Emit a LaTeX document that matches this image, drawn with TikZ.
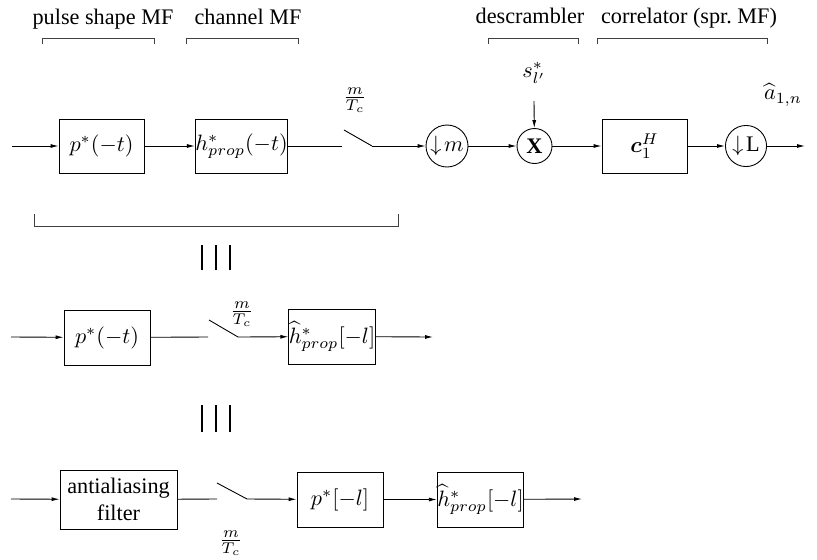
\documentclass[tikz,border=0pt]{standalone}
\usepackage{amsmath}
\usepackage{fontspec}
\setmainfont{Liberation Serif}
\usetikzlibrary{arrows.meta}

\begin{document}
\begin{tikzpicture}[x=0.45pt,y=-0.45pt,
    blk/.style={draw, minimum width=38.25pt, minimum height=24.3pt, inner sep=0pt},
    rnd/.style={draw, circle, inner sep=0pt},
    sig/.style={-{Latex[length=3.6pt,width=1.8pt]}},
    brk/.style={draw=black!75},
    eqv/.style={line width=0.7pt}]
  \useasboundingbox (0,0) rectangle (817,559);

  % Block titles and brackets
  \node[anchor=base] (tps) at (103,24) {pulse shape MF};
  \node[anchor=base] (tch) at (248,24) {channel MF};
  \node[anchor=base] (tds) at (530,23) {descrambler};
  \node[anchor=base] (tco) at (689,23) {correlator (spr.\ MF)};
  \draw[brk] (42,44) |- (154,38) -- (154,44);
  \draw[brk] (186,44) |- (298,38) -- (298,44);
  \draw[brk] (488,44) |- (578,38) -- (578,44);
  \draw[brk] (597,44) |- (767,38) -- (767,44);

  % Top row
  \coordinate (in1) at (12,146);
  \node[blk] (p1) at (101.5,146) {$p^*(-t)$};
  \node[blk] (h1) at (241.5,146) {$h^*_{prop}(-t)$};
  \coordinate (s1o) at (342,146);
  \coordinate (s1a) at (344,130);
  \coordinate (s1b) at (372,146);
  \node (r1) at (355,100) {$\frac{m}{T_c}$};
  \node[rnd, minimum size=18.9pt] (dm) at (447,146) {$\downarrow\! m$};
  \node[rnd, minimum size=15.75pt] (mx) at (534.5,146) {$\mathbf{X}$};
  \node (sc) at (534,73) {$s^*_{l'}$};
  \coordinate (sct) at (534,101);
  \node[blk] (c1) at (644.5,146) {$\boldsymbol{c}_1^H$};
  \node[rnd, minimum size=18.5pt] (dl) at (746,146) {$\downarrow\!\mathrm{L}$};
  \coordinate (out1) at (805,146);
  \node (ah) at (783,95) {$\widehat{a}_{1,n}$};

  \draw[sig] (in1) -- (p1);
  \draw[sig] (p1) -- (h1);
  \draw (h1) -- (s1o);
  \draw (s1a) -- (s1b);
  \draw[sig] (s1b) -- (dm);
  \draw[sig] (dm) -- (mx);
  \draw[sig] (sct) -- (mx);
  \draw[sig] (mx) -- (c1);
  \draw[sig] (c1) -- (dl);
  \draw[sig] (dl) -- (out1);

  % Bracket round the analog part
  \draw[brk] (34,214) |- (398,226) -- (398,214);

  % Equivalence signs
  \foreach \xb in {202,216,230} {
    \draw[eqv] (\xb,245) -- (\xb,270);
    \draw[eqv] (\xb,405) -- (\xb,432);
  }

  % Middle row
  \coordinate (in2) at (11,337);
  \node[blk, minimum width=38.7pt, minimum height=24.75pt] (p2) at (107,337.5) {$p^*(-t)$};
  \coordinate (s2o) at (208,337);
  \coordinate (s2a) at (209,320);
  \coordinate (s2b) at (238,337);
  \node (r2) at (242,314) {$\frac{m}{T_c}$};
  \node[blk, minimum height=24.75pt] (h2) at (332,336.5) {$\widehat{h}^*_{prop}[-l]$};
  \coordinate (out2) at (433,337);

  \draw[sig] (in2) -- (p2);
  \draw (p2) -- (s2o);
  \draw (s2a) -- (s2b);
  \draw[sig] (s2b) -- (h2);
  \draw[sig] (h2) -- (out2);

  % Bottom row
  \coordinate (in3) at (11,499);
  \node[blk, minimum width=52.65pt, minimum height=26.55pt, align=center] (aa) at (118.5,499.5) {antialiasing\\filter};
  \coordinate (s3o) at (217,499);
  \coordinate (s3a) at (217,483);
  \coordinate (s3b) at (247,499);
  \node (r3) at (231,543) {$\frac{m}{T_c}$};
  \node[blk, minimum width=38.7pt, minimum height=24.75pt] (p3) at (340,499.5) {$p^*[-l]$};
  \node[blk, minimum height=24.75pt] (h3) at (480.5,499.5) {$\widehat{h}^*_{prop}[-l]$};
  \coordinate (out3) at (582,499);

  \draw[sig] (in3) -- (aa);
  \draw (aa) -- (s3o);
  \draw (s3a) -- (s3b);
  \draw[sig] (s3b) -- (p3);
  \draw[sig] (p3) -- (h3);
  \draw[sig] (h3) -- (out3);
\end{tikzpicture}
\end{document}
